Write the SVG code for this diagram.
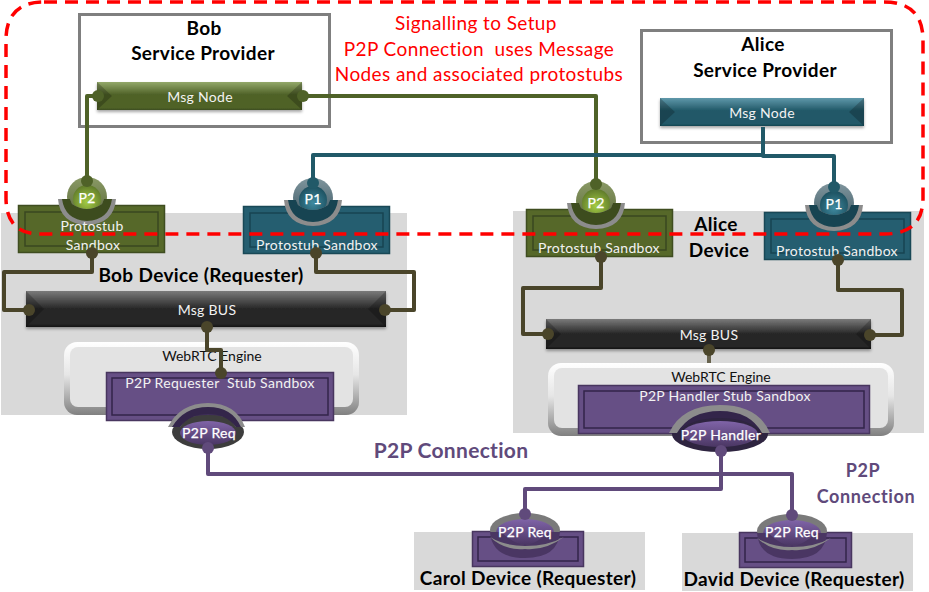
<svg xmlns="http://www.w3.org/2000/svg" width="929" height="592" viewBox="0 0 929 592">
<style>
text{font-family:Lato,Carlito,"Open Sans","Liberation Sans",sans-serif;text-anchor:middle}
.t{font-size:14px;fill:#f2f2f2;letter-spacing:.3px}
.k{font-size:14px;fill:#111}
.b{font-size:19px;font-weight:700;fill:#000;letter-spacing:.35px}
.r{font-size:19px;fill:#f00;letter-spacing:.4px}
.pb{font-weight:700;fill:#604a7b}
.w{font-size:14px;font-weight:400;fill:#fff;letter-spacing:.3px;stroke:#fff;stroke-width:.25px}
.dev{fill:#d9d9d9}
.sp{fill:#fff;stroke:#7f7f7f;stroke-width:3}
.g1{fill:#566829;stroke:#3f4d20}.g2{fill:none;stroke:#3a4720}
.c1{fill:#255e70;stroke:#194856}.c2{fill:none;stroke:#174452}
.p1{fill:#664f85;stroke:#48365f}.p2{fill:none;stroke:#33254a}
.fr{stroke-width:1.500}
.in{stroke-width:1.500}
.line{fill:none;stroke-width:4;stroke-linejoin:round}
.lg{stroke:#4f6228}.lt{stroke:#215968}.lb{stroke:#4a452a}.lp{stroke:#604a7b}
.rim{fill:#8c8c8c}
.bev{fill:#000;opacity:.22}
.dash{fill:none;stroke:#f00;stroke-width:3.500;stroke-dasharray:13 8}
</style>
<defs>
<linearGradient id="bg" x1="0" y1="0" x2="0" y2="1"><stop offset="0" stop-color="#93a86a"/><stop offset=".45" stop-color="#4f6228"/><stop offset=".92" stop-color="#4f6228"/><stop offset="1" stop-color="#3d4c1e"/></linearGradient>
<linearGradient id="bt" x1="0" y1="0" x2="0" y2="1"><stop offset="0" stop-color="#5f98aa"/><stop offset=".45" stop-color="#215968"/><stop offset=".92" stop-color="#215968"/><stop offset="1" stop-color="#174452"/></linearGradient>
<linearGradient id="bk" x1="0" y1="0" x2="0" y2="1"><stop offset="0" stop-color="#7a7a7a"/><stop offset=".5" stop-color="#262626"/><stop offset=".92" stop-color="#262626"/><stop offset="1" stop-color="#111"/></linearGradient>
<linearGradient id="eng" x1="0" y1="0" x2="0" y2="1"><stop offset="0" stop-color="#fff"/><stop offset=".45" stop-color="#e6e6e6"/><stop offset="1" stop-color="#808080"/></linearGradient>
<radialGradient id="ballg" cx=".5" cy=".6" r=".6"><stop offset="0" stop-color="#a4cc44"/><stop offset="1" stop-color="#5f7a2a"/></radialGradient>
<radialGradient id="ballt" cx=".5" cy=".6" r=".6"><stop offset="0" stop-color="#3f8aa0"/><stop offset="1" stop-color="#1c4f5e"/></radialGradient>
<linearGradient id="ringg" x1="0" y1="0" x2="0" y2="1"><stop offset="0" stop-color="#8a9a66"/><stop offset="1" stop-color="#5d6b3a"/></linearGradient>
<linearGradient id="ringt" x1="0" y1="0" x2="0" y2="1"><stop offset="0" stop-color="#7f959d"/><stop offset="1" stop-color="#3e5a65"/></linearGradient>
<linearGradient id="ballp" x1="0" y1="0" x2="0" y2="1"><stop offset="0" stop-color="#8064a8"/><stop offset="1" stop-color="#4a3663"/></linearGradient>
<filter id="sh" x="-5%" y="-20%" width="110%" height="150%"><feDropShadow dx="0" dy="2" stdDeviation="1.500" flood-color="#000" flood-opacity=".35"/></filter>
<path id="bowl" d="M-29 2H-17L-15 7Q0 17 15 7L17 2H29Q27 27 0 28Q-27 27 -29 2Z"/>
<path id="bowlin" d="M-25 2H-17L-15 7Q0 17 15 7L17 2H25Q22 23 0 24Q-22 23 -25 2Z"/>
<path id="tray" d="M-35 -5Q-33 21 0 21Q33 21 35 -5H24Q10 8 0 8Q-10 8 -24 -5Z"/>
<marker id="dg" markerUnits="userSpaceOnUse" markerWidth="14" markerHeight="14" refX="7" refY="7"><circle cx="7" cy="7" r="6" fill="#4f6228"/></marker>
<marker id="dt" markerUnits="userSpaceOnUse" markerWidth="14" markerHeight="14" refX="7" refY="7"><circle cx="7" cy="7" r="6" fill="#215968"/></marker>
<marker id="db" markerUnits="userSpaceOnUse" markerWidth="14" markerHeight="14" refX="7" refY="7"><circle cx="7" cy="7" r="6" fill="#4a452a"/></marker>
<marker id="dp" markerUnits="userSpaceOnUse" markerWidth="14" markerHeight="14" refX="7" refY="7"><circle cx="7" cy="7" r="6" fill="#604a7b"/></marker>
</defs>

<rect class="dev" x="1" y="213" width="406" height="202"/>
<rect class="dev" x="513" y="211" width="411" height="222"/>
<rect class="dev" x="414" y="532" width="231" height="58"/>
<rect class="dev" x="682" y="533" width="231" height="58"/>

<g id="bob-sp"><rect class="sp" x="79.500" y="14.500" width="250" height="112"/><text class="b" x="204" y="35">Bob</text><text class="b" x="203" y="60">Service Provider</text></g>
<g id="alice-sp"><rect class="sp" x="641.500" y="30.500" width="250" height="112"/><text class="b" x="763" y="51">Alice</text><text class="b" x="765" y="77">Service Provider</text></g>

<g id="signalling-label"><text class="r" x="476" y="30">Signalling to Setup</text><text class="r" x="479" y="56" xml:space="preserve">P2P Connection  uses Message</text><text class="r" x="479" y="81">Nodes and associated protostubs</text></g>

<g id="bob-msg-node"><rect x="97" y="82" width="205" height="28" fill="url(#bg)" filter="url(#sh)"/><path class="bev" d="M97 82L112 96L97 110ZM302 82L287 96L302 110Z"/><text class="t" x="200" y="102">Msg Node</text></g>
<g id="alice-msg-node"><rect x="660" y="98" width="204" height="28" fill="url(#bt)" filter="url(#sh)"/><path class="bev" d="M660 98L675 112L660 126ZM864 98L849 112L864 126Z"/><text class="t" x="762" y="118">Msg Node</text></g>

<g id="bob-p2-sandbox"><rect class="g1 fr" x="18.500" y="205.500" width="146" height="47"/><rect class="g2 in" x="25" y="212" width="133" height="34"/>
<circle cx="87" cy="197" r="20" fill="url(#ringg)"/><circle cx="87" cy="199" r="14" fill="url(#ballg)"/><use href="#bowl" x="87" y="197" class="rim"/><use href="#bowlin" x="87" y="197" fill="#3d4c1e"/>
<text class="w" x="87" y="203">P2</text><text class="t" x="92" y="231">Protostub</text><text class="t" x="93" y="250">Sandbox</text></g>
<g id="bob-p1-sandbox"><rect class="c1 fr" x="243.500" y="206.500" width="146" height="47"/><rect class="c2 in" x="250" y="213" width="133" height="34"/>
<circle cx="313" cy="198" r="20" fill="url(#ringt)"/><circle cx="313" cy="200" r="14" fill="url(#ballt)"/><use href="#bowl" x="313" y="198" class="rim"/><use href="#bowlin" x="313" y="198" fill="#174452"/>
<text class="w" x="313" y="204">P1</text><text class="t" x="317" y="250">Protostub Sandbox</text></g>
<g id="alice-p2-sandbox"><rect class="g1 fr" x="526.500" y="209.500" width="146" height="47"/><rect class="g2 in" x="533" y="216" width="133" height="34"/>
<circle cx="596" cy="201" r="20" fill="url(#ringg)"/><circle cx="596" cy="203" r="14" fill="url(#ballg)"/><use href="#bowl" x="596" y="201" class="rim"/><use href="#bowlin" x="596" y="201" fill="#3d4c1e"/>
<text class="w" x="596" y="208">P2</text><text class="t" x="599" y="253">Protostub Sandbox</text></g>
<g id="alice-p1-sandbox"><rect class="c1 fr" x="764.500" y="212.500" width="146" height="47"/><rect class="c2 in" x="771" y="219" width="133" height="34"/>
<circle cx="834" cy="203" r="20" fill="url(#ringt)"/><circle cx="834" cy="205" r="14" fill="url(#ballt)"/><use href="#bowl" x="834" y="203" class="rim"/><use href="#bowlin" x="834" y="203" fill="#174452"/>
<text class="w" x="834" y="209">P1</text><text class="t" x="837" y="256">Protostub Sandbox</text></g>

<g id="bob-device-label"><text class="b" x="201" y="282">Bob Device (Requester)</text></g>
<g id="alice-device-label"><text class="b" x="716" y="231">Alice</text><text class="b" x="719" y="257">Device</text></g>

<g id="bob-msg-bus"><rect x="26" y="291" width="360" height="36" fill="url(#bk)" filter="url(#sh)"/><path class="bev" d="M26 291L44 309L26 327ZM386 291L368 309L386 327Z"/><text class="t" x="207" y="315">Msg BUS</text></g>
<g id="alice-msg-bus"><rect x="546" y="319" width="325" height="30" fill="url(#bk)" filter="url(#sh)"/><path class="bev" d="M546 319L561 334L546 349ZM871 319L856 334L871 349Z"/><text class="t" x="709" y="340">Msg BUS</text></g>

<path class="line lb" d="M709 350V364" opacity=".8"/>

<g id="bob-webrtc"><rect x="64" y="342" width="295" height="73" rx="13" fill="url(#eng)"/><rect x="70" y="347" width="283" height="60" rx="8" fill="#e3e3e3"/><text class="k" x="212" y="361">WebRTC Engine</text></g>
<g id="alice-webrtc"><rect x="548" y="363" width="346" height="73" rx="13" fill="url(#eng)"/><rect x="554" y="368" width="334" height="60" rx="8" fill="#e3e3e3"/><text class="k" x="721" y="382">WebRTC Engine</text></g>

<g id="bob-p2p-stub"><rect class="p1 fr" x="106.500" y="372.500" width="227" height="48"/><rect class="p2 in" x="112" y="378" width="216" height="37"/>
<ellipse cx="208" cy="432" rx="36" ry="17" fill="#3d3d3d"/><ellipse cx="208" cy="433" rx="28" ry="12" fill="url(#ballp)"/>
<path d="M168 427Q180 403 208 403Q236 403 245 427H236Q226 412 208 412Q190 412 180 427Z" fill="#8c8c8c"/><path d="M172 427Q184 407 208 407Q232 407 241 427H236Q226 414 208 414Q190 414 180 427Z" fill="#33254a"/>
<text class="w" x="209" y="438">P2P Req</text><text class="t" x="220" y="388" xml:space="preserve">P2P Requester  Stub Sandbox</text></g>
<g id="alice-p2p-stub"><rect class="p1 fr" x="578.500" y="385.500" width="291" height="48"/><rect class="p2 in" x="584" y="391" width="280" height="37"/>
<ellipse cx="720" cy="434" rx="48" ry="18" fill="#2e2440"/><ellipse cx="720" cy="434" rx="38" ry="13" fill="url(#ballp)"/>
<path d="M669 433Q682 405 720 405Q758 405 770 433H762Q750 413 720 413Q690 413 677 433Z" fill="#8c8c8c"/><path d="M677 433Q690 411 720 411Q750 411 762 433Q750 418 720 418Q690 418 677 433Z" fill="#33254a"/>
<text class="w" x="721" y="440">P2P Handler</text><text class="t" x="725" y="401">P2P Handler Stub Sandbox</text></g>

<g id="carol-device"><rect class="p1 fr" x="472.500" y="531.500" width="111" height="35"/><rect class="p2 in" x="478" y="537" width="100" height="24"/>
<ellipse cx="525" cy="530" rx="35" ry="17" fill="#7a7a7a"/><ellipse cx="525" cy="532" rx="29" ry="13" fill="url(#ballp)"/><use href="#tray" x="525" y="537" fill="#4a3663"/><path d="M490 537Q505 551 525 549Q545 551 564 537Q548 546 525 546Q505 546 490 537Z" fill="#8c8c8c"/>
<text class="w" x="525" y="537">P2P Req</text><text class="b" x="528" y="585">Carol Device (Requester)</text></g>
<g id="david-device"><rect class="p1 fr" x="739.500" y="532.500" width="112" height="35"/><rect class="p2 in" x="745" y="538" width="101" height="24"/>
<ellipse cx="792" cy="531" rx="35" ry="17" fill="#7a7a7a"/><ellipse cx="792" cy="533" rx="29" ry="13" fill="url(#ballp)"/><use href="#tray" x="792" y="538" fill="#4a3663"/><path d="M757 538Q772 552 792 550Q812 552 831 538Q815 547 792 547Q772 547 757 538Z" fill="#8c8c8c"/>
<text class="w" x="792" y="537">P2P Req</text><text class="b" x="794" y="586">David Device (Requester)</text></g>

<g id="connectors">
<path class="line lg" d="M98 96H87V181" marker-start="url(#dg)" marker-end="url(#dg)"/>
<path class="line lg" d="M303 96H596V184" marker-start="url(#dg)" marker-end="url(#dg)"/>
<path class="line lt" d="M313 183V155H763" marker-start="url(#dt)"/>
<path class="line lt" d="M763 127V156H834V187" marker-end="url(#dt)"/>
<path class="line lb" d="M92 253V272H4V310H29" marker-start="url(#db)" marker-end="url(#db)"/>
<path class="line lb" d="M316 253V272H414V310H385" marker-start="url(#db)" marker-end="url(#db)"/>
<path class="line lb" d="M601 257V288H523V334H548" marker-start="url(#db)" marker-end="url(#db)"/>
<path class="line lb" d="M838 260V290H902V335H870" marker-start="url(#db)" marker-end="url(#db)"/>
<path class="line lb" d="M207 327V350H221V373" marker-start="url(#db)" marker-end="url(#db)"/>
<circle cx="709" cy="350" r="6" fill="#4a452a"/>
<path class="line lp" d="M208 448V474H792V515" marker-start="url(#dp)" marker-end="url(#dp)"/>
<path class="line lp" d="M721 451V489H525V514" marker-start="url(#dp)" marker-end="url(#dp)"/>
</g>

<g id="connection-labels"><text class="pb" font-size="21" letter-spacing=".3" x="451" y="458">P2P Connection</text><text class="pb" font-size="18" letter-spacing=".6" x="863" y="477">P2P</text><text class="pb" font-size="18" letter-spacing=".6" x="866" y="503">Connection</text></g>

<path id="signalling-zone" class="dash" d="M44 2H884Q923 2 923 40V198Q923 234 885 234H40Q6 234 6 198V40Q6 2 44 2Z"/>
</svg>
